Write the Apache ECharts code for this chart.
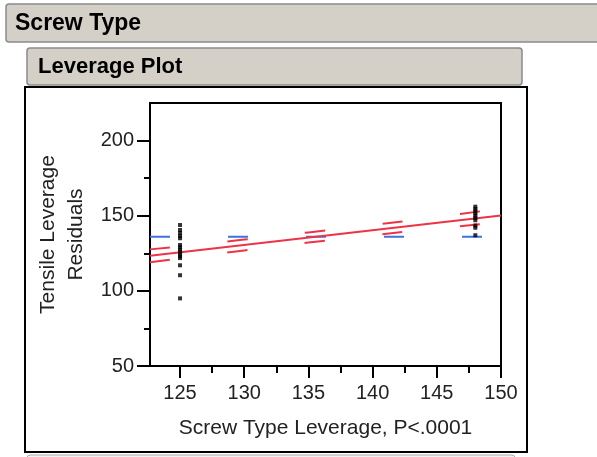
<!DOCTYPE html>
<html><head><meta charset="utf-8">
<script src="https://cdn.jsdelivr.net/npm/echarts@6/dist/echarts.min.js"></script>
<style>html,body{margin:0;padding:0;background:#fff}#c{width:597px;height:457px}</style>
</head><body><div id="c"></div>
<script>
// ---- data ----
const groupX = [125, 148];
const group1Y = [143.8, 140.5, 138.5, 136.5, 135, 130.5, 129, 127.5, 126, 124.5, 123, 121.8, 117, 110.4, 95];
const group2Y = [156, 154.5, 153, 151.5, 150, 148.5, 147, 143.5, 142, 137];
const fitX = [122.66, 150];
const fitY = [123.3, 150.2];
const bandX = [122.66, 125, 130, 135, 140, 145, 150];
const upperY = [127.6, 129.6, 134.1, 138.9, 143.8, 149.1, 154.8];
const lowerY = [119.0, 121.6, 126.9, 132.1, 137.0, 141.5, 145.6];
const meanY = 136;
const xRange = [122.66, 150];
const yRange = [50, 225];
const xTicks = [125, 130, 135, 140, 145, 150];
const xMinorTicks = [127.5, 132.5, 137.5, 142.5, 147.5];
const yTicks = [50, 100, 150, 200];
const yMinorTicks = [75, 125, 175];
const titleOuter = 'Screw Type';
const titleInner = 'Leverage Plot';
const xName = 'Screw Type Leverage, P<.0001';
const yName = 'Tensile Leverage\nResiduals';

const FONT = "'Liberation Sans', Arial, Helvetica, sans-serif";
const RED = '#ee3347';
const BLUE = '#3f72e4';
const DASH = [20, 58];

const zip = (xs, ys) => xs.map((x, i) => [x, ys[i]]);

const chart = echarts.init(document.getElementById('c'), null, {renderer: 'canvas'});
chart.setOption({
  animation: false,
  backgroundColor: '#ffffff',
  textStyle: {fontFamily: FONT},
  graphic: [
    {type: 'rect', z: -10, shape: {x: 6, y: 4, width: 720, height: 38, r: 3},
     style: {fill: '#d4d0c8', stroke: '#8a8a8a', lineWidth: 1.5}},
    {type: 'text', z: -9, x: 15, y: 24,
     style: {text: titleOuter, fill: '#000', font: 'bold 23px ' + FONT, verticalAlign: 'middle'}},
    {type: 'rect', z: -10, shape: {x: 27, y: 48, width: 495, height: 37, r: 3},
     style: {fill: '#d4d0c8', stroke: '#8a8a8a', lineWidth: 1.5}},
    {type: 'text', z: -9, x: 38, y: 67,
     style: {text: titleInner, fill: '#000', font: 'bold 22px ' + FONT, verticalAlign: 'middle'}},
    {type: 'rect', z: -10, shape: {x: 25, y: 87, width: 502, height: 365},
     style: {fill: 'none', stroke: '#000', lineWidth: 2}},
    {type: 'rect', z: -10, shape: {x: 27, y: 455, width: 488, height: 20, r: 3},
     style: {fill: '#f2f2f2', stroke: '#aaaaaa', lineWidth: 1}}
  ],
  grid: {left: 150, right: 96, top: 103, bottom: 91, show: true,
         borderColor: '#000', borderWidth: 2, backgroundColor: 'transparent'},
  xAxis: [
    {type: 'value', min: xRange[0], max: xRange[1], position: 'bottom',
     name: xName, nameLocation: 'middle', nameGap: 52,
     nameTextStyle: {fontSize: 21, color: '#222', fontFamily: FONT},
     axisLine: {show: true, lineStyle: {color: '#000', width: 2}},
     axisTick: {show: true, customValues: xTicks, length: 12, lineStyle: {color: '#000', width: 2}},
     axisLabel: {show: true, customValues: xTicks, fontSize: 20, color: '#222', margin: 17, fontFamily: FONT},
     splitLine: {show: false}},
    {type: 'value', min: xRange[0], max: xRange[1], position: 'bottom',
     axisLine: {show: false},
     axisTick: {show: true, customValues: xMinorTicks, length: 7, lineStyle: {color: '#000', width: 2}},
     axisLabel: {show: false},
     splitLine: {show: false}}
  ],
  yAxis: [
    {type: 'value', min: yRange[0], max: yRange[1], position: 'left',
     name: yName, nameLocation: 'middle', nameGap: 57, nameRotate: 90,
     nameTextStyle: {fontSize: 21, color: '#222', lineHeight: 28, fontFamily: FONT, align: 'center'},
     axisLine: {show: true, lineStyle: {color: '#000', width: 2}},
     axisTick: {show: true, customValues: yTicks, length: 13, lineStyle: {color: '#000', width: 2}},
     axisLabel: {show: true, customValues: yTicks, fontSize: 20, color: '#222', margin: 16, fontFamily: FONT},
     splitLine: {show: false}},
    {type: 'value', min: yRange[0], max: yRange[1], position: 'left',
     axisLine: {show: false},
     axisTick: {show: true, customValues: yMinorTicks, length: 6, lineStyle: {color: '#000', width: 2}},
     axisLabel: {show: false},
     splitLine: {show: false}}
  ],
  series: [
    {type: 'line', name: 'Mean', xAxisIndex: 0, yAxisIndex: 0, z: 2,
     data: [[xRange[0], meanY], [xRange[1], meanY]], showSymbol: false, symbol: 'none',
     lineStyle: {color: BLUE, width: 2, type: DASH}},
    {type: 'line', name: 'Fit', z: 3, data: zip(fitX, fitY), symbol: 'none',
     lineStyle: {color: RED, width: 2}},
    {type: 'line', name: 'Upper', z: 3, data: zip(bandX, upperY), symbol: 'none', smooth: true,
     lineStyle: {color: RED, width: 2, type: DASH}},
    {type: 'line', name: 'Lower', z: 3, data: zip(bandX, lowerY), symbol: 'none', smooth: true,
     lineStyle: {color: RED, width: 2, type: DASH}},
    {type: 'scatter', name: 'Group 1', z: 5, data: group1Y.map(y => [groupX[0], y]),
     symbol: 'rect', symbolSize: 4, itemStyle: {color: '#000'}},
    {type: 'scatter', name: 'Group 2', z: 5, data: group2Y.map(y => [groupX[1], y]),
     symbol: 'rect', symbolSize: 4, itemStyle: {color: '#000'}}
  ]
});
</script>
</body></html>
